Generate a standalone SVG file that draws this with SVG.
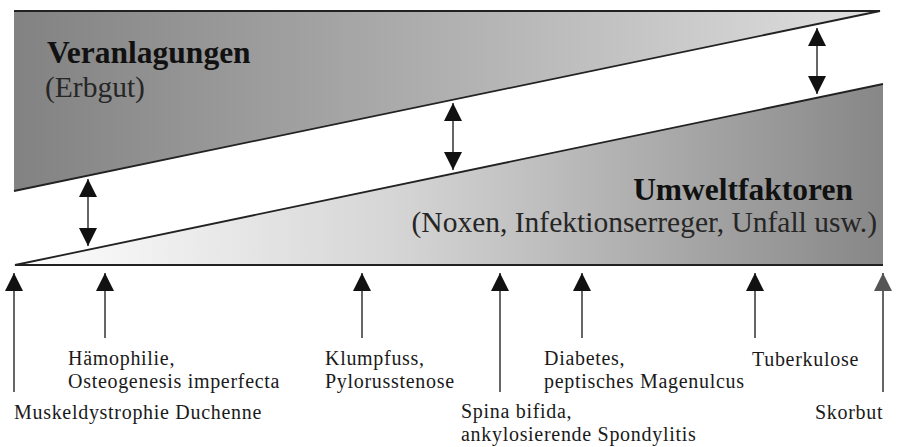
<svg xmlns="http://www.w3.org/2000/svg" width="897" height="447" viewBox="0 0 897 447">
  <defs>
    <linearGradient id="gTop" x1="14" y1="0" x2="880" y2="0" gradientUnits="userSpaceOnUse">
      <stop offset="0" stop-color="#828282"/>
      <stop offset="0.5" stop-color="#b0b0b0"/>
      <stop offset="1" stop-color="#e0e0e0"/>
    </linearGradient>
    <linearGradient id="gBot" x1="14" y1="0" x2="883" y2="0" gradientUnits="userSpaceOnUse">
      <stop offset="0" stop-color="#ffffff"/>
      <stop offset="0.45" stop-color="#d4d4d4"/>
      <stop offset="1" stop-color="#878787"/>
    </linearGradient>
    <marker id="head" viewBox="0 0 18 18" refX="18" refY="9" markerWidth="18" markerHeight="18" markerUnits="userSpaceOnUse" orient="auto-start-reverse">
      <path d="M0,0 L18,9 L0,18 z" fill="#111"/>
    </marker>
    <marker id="headGray" viewBox="0 0 18 18" refX="18" refY="9" markerWidth="18" markerHeight="18" markerUnits="userSpaceOnUse" orient="auto-start-reverse">
      <path d="M0,0 L18,9 L0,18 z" fill="#555"/>
    </marker>
  </defs>
  <style>
    .title { font-family: "Liberation Serif", "Times New Roman", serif; font-weight: bold; font-size: 31.5px; fill: #111; }
    .sub { font-family: "Liberation Serif", "Times New Roman", serif; font-size: 29.5px; fill: #262626; }
    .lbl { font-family: "Liberation Serif", "Times New Roman", serif; font-size: 20px; letter-spacing: 0.7px; fill: #1a1a1a; }
    .edge { fill: none; stroke: #222; stroke-width: 1.8; }
    .arr { stroke: #333; stroke-width: 1.5; fill: none; }
  </style>
  <rect x="0" y="0" width="897" height="447" fill="#ffffff"/>

  <g id="veranlagungen">
    <polygon points="14,11 880,11 14,191" fill="url(#gTop)"/>
    <polyline class="edge" points="14,11 880,11 14,191"/>
    <text class="title" x="47" y="63">Veranlagungen</text>
    <text class="sub" x="45" y="97">(Erbgut)</text>
  </g>

  <g id="umweltfaktoren">
    <polygon points="15,265 883,84 883,265" fill="url(#gBot)"/>
    <polyline class="edge" points="883,84 15,265 883,265"/>
    <text class="title" x="853" y="200" text-anchor="end">Umweltfaktoren</text>
    <text class="sub" x="877" y="232" text-anchor="end">(Noxen, Infektionserreger, Unfall usw.)</text>
  </g>

  <g id="connectors">
    <line class="arr" x1="88" y1="179" x2="88" y2="246" marker-start="url(#head)" marker-end="url(#head)"/>
    <line class="arr" x1="453" y1="103" x2="453" y2="170" marker-start="url(#head)" marker-end="url(#head)"/>
    <line class="arr" x1="817" y1="28" x2="817" y2="94" marker-start="url(#head)" marker-end="url(#head)"/>

    <line class="arr" x1="14" y1="392" x2="14" y2="273" marker-end="url(#head)"/>
    <line class="arr" x1="105" y1="338" x2="105" y2="273" marker-end="url(#head)"/>
    <line class="arr" x1="362" y1="338" x2="362" y2="273" marker-end="url(#head)"/>
    <line class="arr" x1="500" y1="392" x2="500" y2="273" marker-end="url(#head)"/>
    <line class="arr" x1="582" y1="338" x2="582" y2="273" marker-end="url(#head)"/>
    <line class="arr" x1="755" y1="338" x2="755" y2="273" marker-end="url(#head)"/>
    <line class="arr" x1="883" y1="392" x2="883" y2="273" stroke="#777" marker-end="url(#headGray)"/>
  </g>

  <g id="muskeldystrophie">
    <text class="lbl" x="14" y="419">Muskeldystrophie Duchenne</text>
  </g>
  <g id="haemophilie">
    <text class="lbl" x="68" y="365">Hämophilie,</text>
    <text class="lbl" x="68" y="388">Osteogenesis imperfecta</text>
  </g>
  <g id="klumpfuss">
    <text class="lbl" x="325" y="365">Klumpfuss,</text>
    <text class="lbl" x="325" y="388">Pylorusstenose</text>
  </g>
  <g id="spina-bifida">
    <text class="lbl" x="461" y="418">Spina bifida,</text>
    <text class="lbl" x="461" y="441">ankylosierende Spondylitis</text>
  </g>
  <g id="diabetes">
    <text class="lbl" x="544" y="365">Diabetes,</text>
    <text class="lbl" x="544" y="388">peptisches Magenulcus</text>
  </g>
  <g id="tuberkulose">
    <text class="lbl" x="752" y="366">Tuberkulose</text>
  </g>
  <g id="skorbut">
    <text class="lbl" x="815" y="419">Skorbut</text>
  </g>
</svg>
